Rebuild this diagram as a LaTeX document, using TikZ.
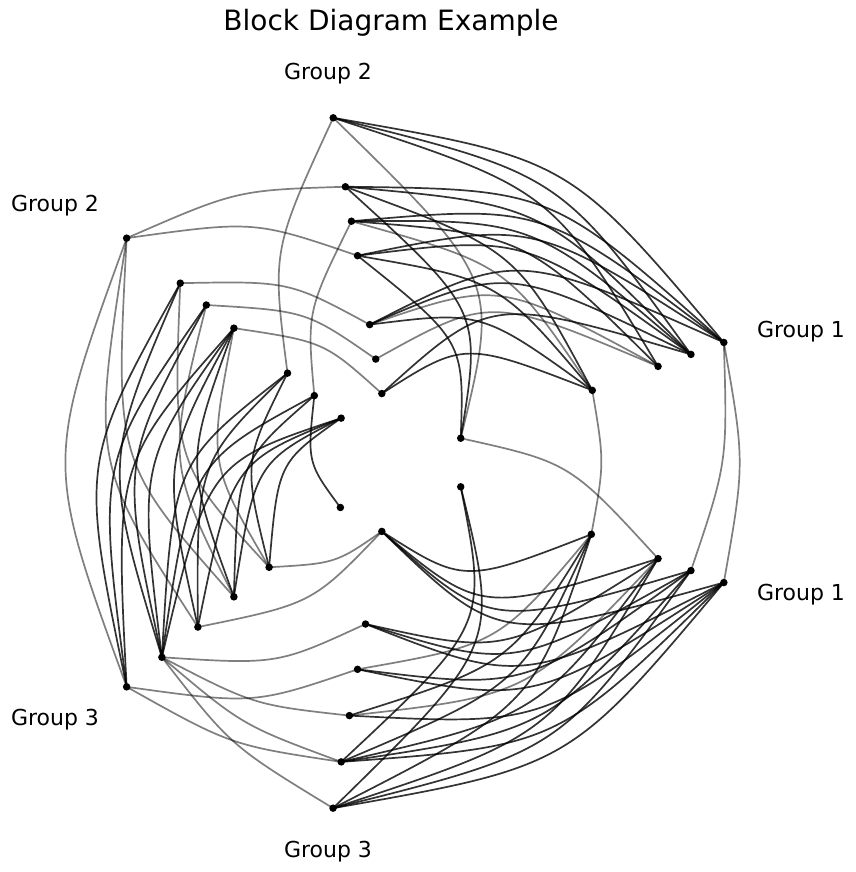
\documentclass[tikz,border=0pt]{standalone}
\usetikzlibrary{calc}
\usepackage{fontspec}
\setmainfont{DejaVu Sans}
\begin{document}
\begin{tikzpicture}[x=1pt,y=1pt,
  dot/.style={circle,fill=black,inner sep=0pt,minimum size=7.5pt},
  dk/.style={draw=black,opacity=0.8,line width=1.7pt},
  gr/.style={draw=black,opacity=0.5,line width=1.7pt},
  lab/.style={font=\fontsize{22}{26}\selectfont}]
\useasboundingbox (-394,-409.5) rectangle (461,462.5);
\foreach \ax/\ang/\rs in {A/20/{71,211,281,316,351},B/-20/{71,210,281,316,351},
  C/100/{70,105,140,210,245,280,350},D/140/{69,104,139,209,245,279,349},
  E/220/{70,163,209,256,303,349},F/260/{70,164,210,257,304,351}}{
  \foreach \r [count=\i] in \rs {\coordinate (\ax\i) at (\ang:\r);}}
\newcommand\ed[4]{\draw[#4] let \p1=(#1), \p2=(#2),
  \n1={(veclen(\x1,\y1)+veclen(\x2,\y2))/2} in (#1) .. controls (#3:\n1) .. (#2);}
% A-C
\foreach \c/\a in {7/5,7/4,7/3,6/5,6/4,6/2,5/5,5/4,5/3,4/5,4/4,4/2,4/1,3/5,3/4,3/2,1/2,1/4,6/1}{\ed{C\c}{A\a}{60}{dk}}
\foreach \c/\a in {7/1,2/3,3/3,5/2}{\ed{C\c}{A\a}{60}{gr}}
% A-B
\foreach \a/\b in {5/5,2/2,5/4,1/3}{\ed{A\a}{B\b}{0}{gr}}
% C-D
\foreach \c/\d in {6/7,7/3,2/5,3/6,1/4,4/7,5/2}{\ed{C\c}{D\d}{120}{gr}}
% D-E
\foreach \e/\d in {6/6,6/5,6/4,5/4,5/3,5/2,5/1,5/5,5/6,4/4,4/3,3/2,3/1,2/1,2/3,4/1,3/4,1/2}{\ed{E\e}{D\d}{180}{dk}}
\foreach \e/\d in {6/7,4/7,3/7,2/6,3/5,2/4}{\ed{E\e}{D\d}{180}{gr}}
% E-F
\foreach \e/\f in {6/3,5/6,5/4,5/2,4/1,2/1,6/5,5/5}{\ed{E\e}{F\f}{240}{gr}}
% F-B
\foreach \f/\b in {6/5,6/4,6/3,6/2,6/1,5/5,5/4,5/3,5/2,5/1,4/5,4/2,3/4,3/5,2/4,2/5,2/3,1/2,1/4,1/5,1/3}{\ed{F\f}{B\b}{300}{dk}}
\foreach \f/\b in {4/3,3/2}{\ed{F\f}{B\b}{300}{gr}}
% dots
\foreach \ax/\n in {A/5,B/5,C/7,D/7,E/6,F/6}{\foreach \i in {1,...,\n}{\node[dot] (d\ax\i) at (\ax\i) {};}}
% labels
\node[lab] (g1a) at (407,131) {Group 1};
\node[lab] (g1b) at (407,-132) {Group 1};
\node[lab] (g2a) at (-66,389) {Group 2};
\node[lab] (g2b) at (-339,257) {Group 2};
\node[lab] (g3a) at (-339,-257) {Group 3};
\node[lab] (g3b) at (-66,-389) {Group 3};
\node[font=\fontsize{28}{32}\selectfont] (title) at (-3,440) {Block Diagram Example};
\end{tikzpicture}
\end{document}
